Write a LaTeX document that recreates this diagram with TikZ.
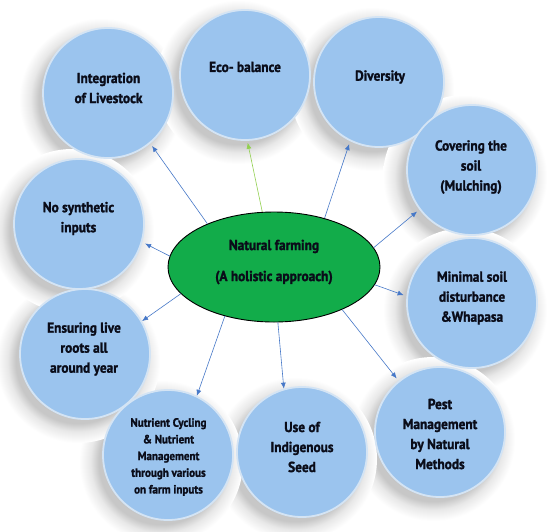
\documentclass[tikz,border=0pt]{standalone}
\usepackage{fontspec}
\setmainfont{PT Sans}[FakeStretch=0.92,BoldFeatures={FakeBold=1.5}]
\usetikzlibrary{arrows.meta,shapes.geometric}
\definecolor{bubble}{RGB}{155,196,238}
\definecolor{rim}{RGB}{212,228,244}
\definecolor{hub}{RGB}{18,172,74}
\definecolor{link}{RGB}{70,120,200}
\definecolor{glink}{RGB}{146,208,80}
\definecolor{ink}{RGB}{10,12,25}
\pgfdeclareradialshading{bubshadow}{\pgfpointorigin}{color(0bp)=(black!24); color(19bp)=(black!22); color(21.5bp)=(black!9); color(25bp)=(white); color(50bp)=(white)}
\tikzset{
  bubblenode/.style={circle,minimum size=130pt,inner sep=0pt,fill=bubble,draw=rim,line width=1.8pt},
  shadowdisk/.style={shading=bubshadow},
  txt/.style={align=center,text=ink,inner sep=0pt,font=\bfseries\fontsize{14.5}{20}\selectfont},
  smalltxt/.style={align=center,text=ink,inner sep=0pt,font=\bfseries\fontsize{12}{16.7}\selectfont},
  arr/.style={draw=link,line width=0.6pt,-{Latex[length=6pt,width=5pt]},shorten >=3pt},
  garr/.style={draw=glink,line width=0.6pt,-{Latex[length=6pt,width=5pt]},shorten >=2pt},
}
\begin{document}
\begin{tikzpicture}[x=1pt,y=-1pt]
\useasboundingbox (0,0) rectangle (553,531);
\fill[white] (0,0) rectangle (553,531);
% shadows
\foreach \cx/\cy in {108/93,245/75,379/82,472/170,472/303,440/432,302/452,168/455,85/354,79/224}{
  \shade[shadowdisk] (\cx-7,\cy+7) circle[radius=82];
}
% bubbles
\node[bubblenode] (c1) at (108,93) {};
\node[bubblenode] (c2) at (245,75) {};
\node[bubblenode] (c3) at (379,82) {};
\node[bubblenode] (c4) at (472,170) {};
\node[bubblenode] (c5) at (472,303) {};
\node[bubblenode] (c6) at (440,432) {};
\node[bubblenode] (c7) at (302,452) {};
\node[bubblenode] (c8) at (168,455) {};
\node[bubblenode] (c9) at (85,354) {};
\node[bubblenode] (c10) at (79,224) {};
% hub
\node[ellipse,minimum width=212pt,minimum height=110pt,inner sep=0pt,fill=hub,draw=black,line width=0.9pt] (e) at (274,267) {};
\node[txt,font=\bfseries\fontsize{14.5}{31}\selectfont] (et) at (274,262) {Natural farming\\(A holistic approach)};
% texts
\node[txt] (t1) at (108.5,88) {Integration\\of Livestock};
\node[txt] (t2) at (245,67) {Eco- balance};
\node[txt] (t3) at (380,77) {Diversity};
\node[txt] (t4) at (471,167) {Covering the\\soil\\(Mulching)};
\node[txt] (t5) at (472,298) {Minimal soil\\disturbance\\\&Whapasa};
\node[txt] (t6) at (440,434) {Pest\\Management\\by Natural\\Methods};
\node[txt] (t7) at (302,447) {Use of\\Indigenous\\Seed};
\node[smalltxt] (t8) at (168.5,457) {Nutrient Cycling\\\& Nutrient\\Management\\through various\\on farm inputs};
\node[txt] (t9) at (84,349) {Ensuring live\\roots all\\around year};
\node[txt] (t10) at (78.5,218.5) {No synthetic\\inputs};
% connectors
\draw[arr] (e.147.6) -- (c1.-50.8);
\draw[garr] (e.102.3) -- (c2.-88.3);
\draw[arr] (e.44.4) -- (c3.244.6);
\draw[arr] (e.11.4) -- (c4.217);
\draw[arr] (e.-10.1) -- (c5.174);
\draw[arr] (e.-32.2) -- (c6.129.8);
\draw[arr,shorten >=0pt] (e.-86.2) -- (c7.106.2);
\draw[arr,shorten >=0pt] (e.225) -- (c8.64.7);
\draw[arr,shorten >=0pt] (e.196.1) -- (c9.30.2);
\draw[arr] (e.174.6) -- (c10.-16.5);
\end{tikzpicture}
\end{document}
